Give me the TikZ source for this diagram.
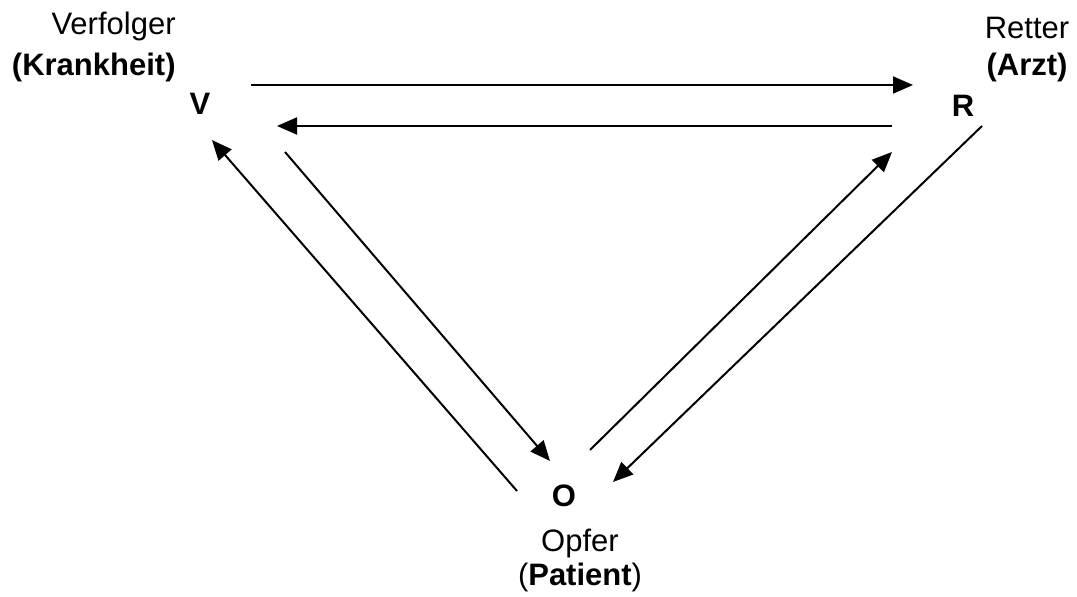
\documentclass[tikz,border=0pt]{standalone}
\usepackage{fontspec}
\setmainfont{Liberation Sans}
\usetikzlibrary{arrows.meta}
\begin{document}
\begin{tikzpicture}[x=0.5pt,y=-0.5pt,
  letter/.style={font=\fontsize{15.5pt}{18pt}\selectfont\bfseries, inner sep=0pt, anchor=base},
  lab/.style={font=\fontsize{15.5pt}{18pt}\selectfont, inner sep=0pt},
  arr/.style={line width=1pt, -{Triangle[length=10pt,width=8.5pt]}}]
\useasboundingbox (0,0) rectangle (1077,597);
% role letters
\node[letter] (V) at (200,115) {V};
\node[letter] (R) at (963,117) {R};
\node[letter] (O) at (564,507) {O};
% labels
\node[lab, anchor=base east] (Vl1) at (176,35) {Verfolger};
\node[lab, anchor=base east] (Vl2) at (176,75.6) {\bfseries (Krankheit)};
\node[lab, anchor=base] (Rl1) at (1027,39) {Retter};
\node[lab, anchor=base] (Rl2) at (1027,75.6) {\bfseries (Arzt)};
\node[lab, anchor=base] (Ol1) at (580,552) {Opfer};
\node[lab, anchor=base] (Ol2) at (580,585.6) {(\textbf{Patient})};
% connector end points
\coordinate (vr1) at (251,85);  \coordinate (vr2) at (913,85);
\coordinate (rv1) at (892,126); \coordinate (rv2) at (277,126);
\coordinate (ov1) at (517,491); \coordinate (ov2) at (212,140);
\coordinate (vo1) at (285,152); \coordinate (vo2) at (550,461);
\coordinate (or1) at (590,450); \coordinate (or2) at (892,152);
\coordinate (ro1) at (982,126); \coordinate (ro2) at (613,482);
% connectors
\draw[arr] (vr1) -- (vr2);
\draw[arr] (rv1) -- (rv2);
\draw[arr] (ov1) -- (ov2);
\draw[arr] (vo1) -- (vo2);
\draw[arr] (or1) -- (or2);
\draw[arr] (ro1) -- (ro2);
\end{tikzpicture}
\end{document}
